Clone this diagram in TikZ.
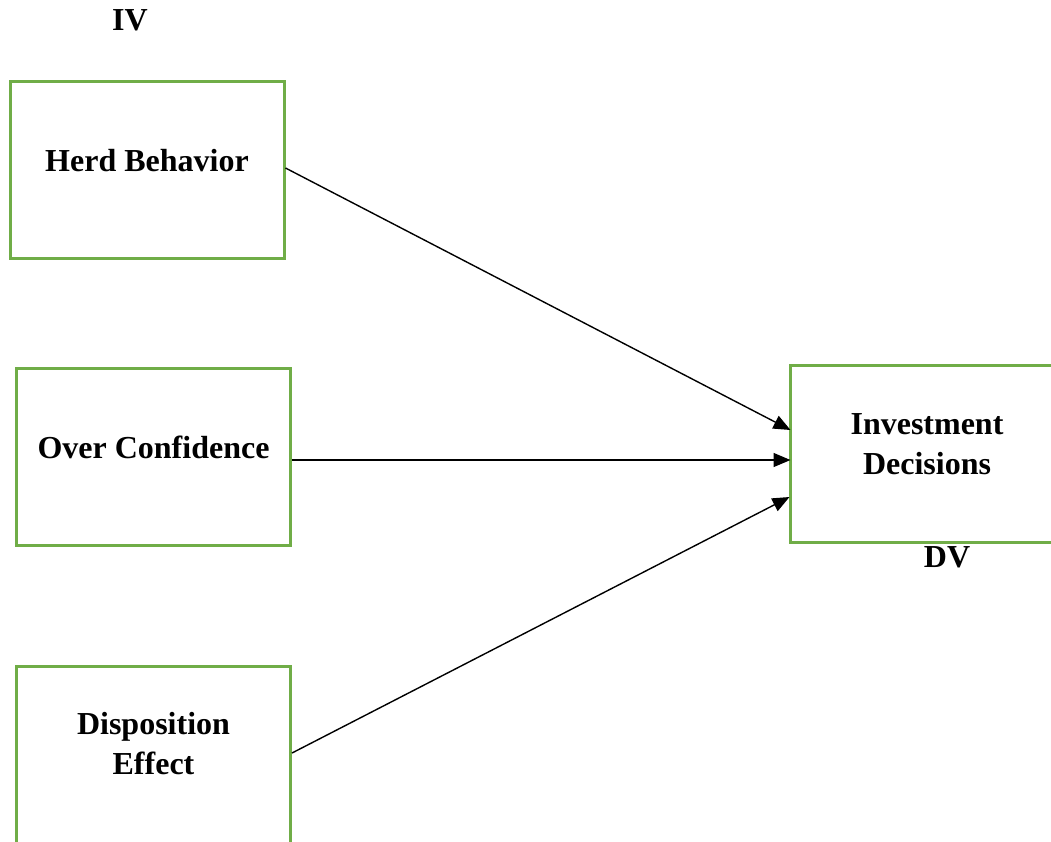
\documentclass[tikz,border=0pt]{standalone}
\usepackage{fontspec}
\setmainfont{Liberation Serif}
\usetikzlibrary{arrows.meta,calc}
\definecolor{boxgreen}{RGB}{112,173,71}
\begin{document}
\begin{tikzpicture}[x=1pt,y=-1pt,
  varbox/.style={draw=boxgreen,line width=3pt,minimum width=274pt,minimum height=177pt,inner sep=0pt},
  vartext/.style={font=\fontsize{32}{40}\selectfont\bfseries,align=center,inner sep=0pt},
  conn/.style={line width=1.4pt,-{Triangle[length=17pt,width=14pt]}}]
\useasboundingbox (0,0) rectangle (1051,841);
\node[varbox] (herd) at (147,169.5) {};
\node[varbox] (over) at (153.5,456.5) {};
\node[varbox] (disp) at (153.5,755) {};
\node[varbox,minimum width=276pt] (inv) at (928,453.5) {};
\node[vartext] (herdt) at (147,161) {Herd Behavior};
\node[vartext] (overt) at (153.5,447) {Over Confidence};
\node[vartext] (dispt) at (153.5,744) {Disposition\\Effect};
\node[vartext] (invt) at (927,444) {Investment\\Decisions};
\node[vartext] (iv) at (130,20) {IV};
\node[vartext] (dv) at (947,557) {DV};
\coordinate (e1) at ($(inv.west)+(2,-23.5)$);
\coordinate (e2) at ($(inv.west)+(2,6.5)$);
\coordinate (e3) at ($(inv.west)+(1,43.5)$);
\draw[conn] ($(herd.east)+(0,-1.5)$) -- (e1);
\draw[conn] ($(over.east)+(0,3.5)$) -- (e2);
\draw[conn] ($(disp.east)+(0,-2)$) -- (e3);
\end{tikzpicture}
\end{document}
